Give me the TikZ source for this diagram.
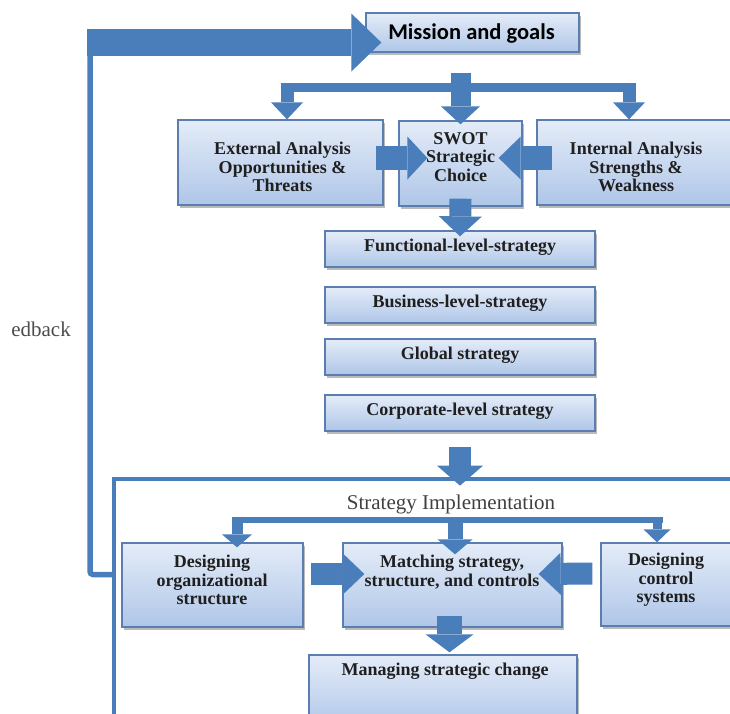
\documentclass[tikz,border=0pt]{standalone}
\usepackage{fontspec}
\setmainfont{Liberation Serif}
\newfontfamily\calibrifont{Carlito}
\usetikzlibrary{arrows.meta,shadows}
\definecolor{ablue}{HTML}{4A7EBB}
\definecolor{bdr}{HTML}{5B7DB0}
\definecolor{btop}{HTML}{E4ECF8}
\definecolor{bbot}{HTML}{AFC6E8}
\begin{document}
\begin{tikzpicture}[x=1pt,y=-1pt,
  box/.style={draw=bdr, line width=1.3pt, top color=btop, bottom color=bbot, inner sep=0pt,
    drop shadow={shadow xshift=2pt,shadow yshift=-2.5pt,fill=black!45,opacity=0.6}},
  txt/.style={font=\fontsize{18}{18.5}\selectfont\bfseries, align=center, inner sep=0pt, text=black!88},
  blk/.style n args={3}{draw=ablue, line width=#1, -{Triangle[length=#2,width=#3,line width=0pt]}},
  bar/.style={draw=ablue, line width=#1},
]
\useasboundingbox (0,0) rectangle (730,713);
\clip (0,0) rectangle (730,713);

% frame of implementation
\node[draw=ablue, line width=4pt, minimum width=646pt, minimum height=281pt, inner sep=0pt] (frame) at (437,619.5) {};

% boxes
\node[box, minimum width=213pt, minimum height=39pt] (mission) at (472.5,32.5) {};
\node[font=\calibrifont\bfseries\fontsize{22.5}{24}\selectfont, inner sep=0pt] (missiontxt) at (471.5,33.5) {Mission and goals};

\node[box, minimum width=205pt, minimum height=85pt] (ext) at (280.5,162.5) {};
\node[box, minimum width=123pt, minimum height=85pt] (swot) at (460.5,163.5) {};
\node[box, minimum width=203pt, minimum height=85pt] (int) at (638.5,162.5) {};
\node[txt] (exttxt) at (282.5,167) {External Analysis\\Opportunities \&\\Threats};
\node[txt] (swottxt) at (460.5,157) {SWOT\\Strategic\\Choice};
\node[txt] (inttxt) at (636,167) {Internal Analysis\\Strengths \&\\Weakness};

\node[box, minimum width=270pt, minimum height=36pt] (func) at (460,249) {};
\node[box, minimum width=270pt, minimum height=36pt] (bus) at (460,305) {};
\node[box, minimum width=270pt, minimum height=36pt] (glob) at (460,357) {};
\node[box, minimum width=270pt, minimum height=36pt] (corp) at (460,413) {};
\node[txt] (functxt) at (460,247.5) {Functional-level-strategy};
\node[txt] (bustxt) at (460,303.5) {Business-level-strategy};
\node[txt] (globtxt) at (460,355.5) {Global strategy};
\node[txt] (corptxt) at (460,411.5) {Corporate-level strategy};

\node[font=\fontsize{21}{23}\selectfont, text=black!75, inner sep=0pt] (impl) at (451,504) {Strategy Implementation};

\node[box, minimum width=181pt, minimum height=84pt] (org) at (212.5,585) {};
\node[box, minimum width=219pt, minimum height=84pt] (match) at (452.5,585) {};
\node[box, minimum width=139pt, minimum height=83pt] (ctrl) at (670.5,584.5) {};
\node[box, minimum width=268pt, minimum height=75pt] (manage) at (443,692.5) {};
\node[txt] (orgtxt) at (212,580) {Designing\\organizational\\structure};
\node[txt] (matchtxt) at (452,572) {Matching strategy,\\structure, and controls};
\node[txt] (ctrltxt) at (666,580) {Designing\\control\\systems};
\node[txt] (managetxt) at (445,671) {Managing strategic change};

\node[font=\fontsize{21}{23}\selectfont, text=black!70, inner sep=0pt, anchor=east] (fbtxt) at (71,329) {edback};

% mission fan-out
\coordinate (mL) at (287,87.5);
\coordinate (mR) at (629,87.5);
\draw[bar=9pt] ([xshift=-6.5pt]mL) -- ([xshift=6.5pt]mR);
\draw[blk={13pt}{17pt}{32pt}] ([yshift=4pt]mL) -- (mL |- ext.north);
\draw[blk={13pt}{17pt}{32pt}] ([yshift=4pt]mR) -- (mR |- int.north);
\draw[blk={20pt}{18pt}{39pt}] ([yshift=-20pt]mission.south -| swot.north) -- ([yshift=-4pt]swot.north);

% into SWOT
\draw[blk={24pt}{20pt}{43pt}] ([shift={(-8pt,4.5pt)}]ext.east) -- ([shift={(29pt,5.5pt)}]swot.west);
\draw[blk={24pt}{22pt}{43pt}] ([shift={(16pt,4.5pt)}]int.west) -- ([shift={(-24pt,5.5pt)}]swot.east);

% SWOT to functional
\draw[blk={22pt}{20pt}{43pt}] ([yshift=8pt]swot.south) -- ([yshift=-6pt]func.north);

% corporate to implementation
\draw[blk={22pt}{20pt}{46pt}] ([yshift=-15pt]corp.south) -- ([yshift=-54pt]corp.south);

% implementation fan-out
\coordinate (iL) at (237,520);
\coordinate (iC) at (455,520);
\coordinate (iR) at (657,520);
\draw[bar=6pt] ([xshift=-5.5pt]iL) -- ([xshift=5.5pt]iR);
\draw[blk={11pt}{13pt}{30pt}] ([yshift=3pt]iL) -- ([yshift=-5pt]iL |- org.north);
\draw[blk={15pt}{15pt}{35pt}] ([yshift=3pt]iC) -- ([yshift=-12pt]iC |- match.north);
\draw[blk={9pt}{13pt}{27pt}] ([yshift=3pt]iR) -- (iR |- ctrl.north);

% into matching
\draw[blk={22pt}{22pt}{42pt}] ([shift={(7pt,11pt)}]org.east) -- ([shift={(22pt,11pt)}]match.west);
\draw[blk={22pt}{22pt}{42pt}] ([shift={(-8pt,11pt)}]ctrl.west) -- ([shift={(-24pt,11pt)}]match.east);

% matching to managing
\draw[blk={25pt}{18pt}{48pt}] ([shift={(-3pt,12pt)}]match.south) -- ([shift={(-3pt,2pt)}]match.south |- manage.north);

% feedback
\coordinate (fbcorner) at (90,574.5);
\coordinate (fbtop) at (90,42.5);
\draw[bar=5.5pt, rounded corners=3pt] ([yshift=45pt]frame.west) -- (fbcorner) -- (fbtop);
\draw[blk={27pt}{30pt}{58pt}] ([xshift=-3pt]fbtop) -- ([shift={(16pt,-10pt)}]mission.west);
\end{tikzpicture}
\end{document}
